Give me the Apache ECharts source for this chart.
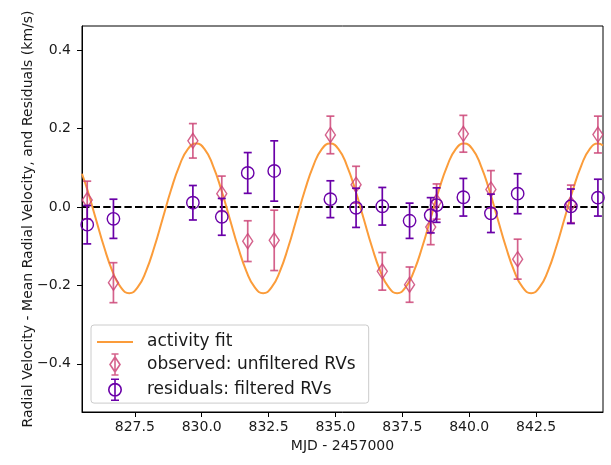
<!DOCTYPE html>
<html>
<head>
<meta charset="utf-8">
<script src="https://cdn.jsdelivr.net/npm/echarts@6/dist/echarts.min.js"></script>
<style>
html,body{margin:0;padding:0;background:#fff;}
#chart{width:611px;height:465px;}
</style>
</head>
<body>
<div id="chart"></div>
<script>
// ---- data ----
const mjd = [825.72, 826.70, 829.67, 830.75, 831.72, 832.71, 834.81, 835.77, 836.75, 837.77, 838.56, 838.78, 839.78, 840.81, 841.81, 843.80, 844.81];
const observed    = [0.018, -0.193, 0.169, 0.034, -0.087, -0.085, 0.184, 0.057, -0.164, -0.198, -0.051, 0.014, 0.187, 0.045, -0.133, 0.008, 0.185];
const observedErr = [0.048, 0.051, 0.044, 0.045, 0.052, 0.077, 0.048, 0.047, 0.048, 0.045, 0.045, 0.045, 0.047, 0.048, 0.051, 0.048, 0.047];
const residual    = [-0.045, -0.030, 0.011, -0.025, 0.087, 0.092, 0.020, -0.002, 0.002, -0.035, -0.021, 0.005, 0.025, -0.016, 0.034, 0.002, 0.024];
const residualErr = [0.049, 0.050, 0.044, 0.047, 0.052, 0.077, 0.047, 0.050, 0.048, 0.045, 0.045, 0.044, 0.048, 0.049, 0.051, 0.044, 0.047];

// activity fit curve
const fitX = [825.525, 825.725, 826.038, 826.351, 826.664, 826.977,
  827.290, 827.603, 827.916, 828.229, 828.542, 828.855, 829.168, 829.481, 829.794, 830.107, 830.419, 830.732, 831.045, 831.358, 831.671, 831.984,
  832.297, 832.610, 832.923, 833.236, 833.549, 833.862, 834.175, 834.488, 834.801, 835.114, 835.426, 835.739, 836.052, 836.365, 836.678, 836.991,
  837.304, 837.617, 837.930, 838.243, 838.556, 838.869, 839.182, 839.495, 839.808, 840.121, 840.433, 840.746, 841.059, 841.372, 841.685, 841.998,
  842.311, 842.624, 842.937, 843.250, 843.563, 843.876, 844.189, 844.502, 844.815, 845.000];
const fitY = [0.085, 0.044, -0.029, -0.102, -0.164, -0.205,
  -0.220, -0.205, -0.164, -0.102, -0.029, 0.044, 0.106, 0.148, 0.162, 0.148, 0.106, 0.044, -0.029, -0.102, -0.164, -0.205,
  -0.220, -0.205, -0.164, -0.102, -0.029, 0.044, 0.106, 0.148, 0.162, 0.148, 0.106, 0.044, -0.029, -0.102, -0.164, -0.205,
  -0.220, -0.205, -0.164, -0.102, -0.029, 0.044, 0.106, 0.148, 0.162, 0.148, 0.106, 0.044, -0.029, -0.102, -0.164, -0.205,
  -0.220, -0.205, -0.164, -0.102, -0.029, 0.044, 0.106, 0.148, 0.162, 0.157];

const zeroLevel = 0.0;
const xTicks = [827.5, 830.0, 832.5, 835.0, 837.5, 840.0, 842.5];
const yTicks = [-0.4, -0.2, 0.0, 0.2, 0.4];
const xRange = [825.525, 845.0];
const yRange = [-0.523, 0.462];

const names = ['activity fit', 'observed: unfiltered RVs', 'residuals: filtered RVs'];
const xTitle = 'MJD - 2457000';
const yTitle = 'Radial Velocity - Mean Radial Velocity, and Residuals (km/s)';

// ---- styles ----
const ORANGE = '#fb9c3a';
const PINK = '#cc4778';
const PURPLE = '#6a00a8';
const FONT = 'DejaVu Sans';
const TXT = '#1a1a1a';

function errRender(kind, color, opacity) {
  return function (params, api) {
    const x = api.value(0), y = api.value(1), e = api.value(2);
    const c = api.coord([x, y]);
    const t = api.coord([x, y + e]);
    const b = api.coord([x, y - e]);
    const st = {stroke: color, lineWidth: 1.7, fill: null, opacity: opacity};
    const cw = 4;
    const children = [
      {type: 'line', shape: {x1: t[0], y1: t[1], x2: b[0], y2: b[1]}, style: st},
      {type: 'line', shape: {x1: t[0] - cw, y1: t[1], x2: t[0] + cw, y2: t[1]}, style: st},
      {type: 'line', shape: {x1: b[0] - cw, y1: b[1], x2: b[0] + cw, y2: b[1]}, style: st}
    ];
    if (kind === 'diamond') {
      children.push({type: 'polygon', shape: {points: [[c[0], c[1] - 7.5], [c[0] + 5, c[1]], [c[0], c[1] + 7.5], [c[0] - 5, c[1]]]},
        style: {stroke: color, lineWidth: 1.4, fill: 'none', opacity: opacity}});
    } else {
      children.push({type: 'circle', shape: {cx: c[0], cy: c[1], r: 6.2},
        style: {stroke: color, lineWidth: 1.4, fill: 'none', opacity: opacity}});
    }
    return {type: 'group', children: children};
  };
}

const fitData = fitX.map((x, i) => [x, fitY[i]]);
const zeroData = xRange.map(x => [x, zeroLevel]);
const obsData = mjd.map((x, i) => [x, observed[i], observedErr[i]]);
const resData = mjd.map((x, i) => [x, residual[i], residualErr[i]]);

const chart = echarts.init(document.getElementById('chart'), null, {renderer: 'canvas'});
chart.setOption({
  animation: false,
  backgroundColor: '#fff',
  grid: {left: 82, right: 8, top: 26, bottom: 53, show: true, borderColor: '#000', borderWidth: 1, backgroundColor: 'transparent'},
  xAxis: {
    type: 'value', min: xRange[0], max: xRange[1],
    name: xTitle, nameLocation: 'middle', nameGap: 27, nameMoveOverlap: false,
    nameTextStyle: {fontFamily: FONT, fontSize: 14, color: TXT},
    axisLine: {show: true, onZero: false, lineStyle: {color: '#000', width: 1}},
    axisTick: {show: true, inside: false, length: 5, lineStyle: {color: '#000', width: 1}, customValues: xTicks},
    axisLabel: {customValues: xTicks, margin: 8, fontFamily: FONT, fontSize: 14, color: TXT, formatter: v => v.toFixed(1)},
    splitLine: {show: false}
  },
  yAxis: {
    type: 'value', min: yRange[0], max: yRange[1],
    name: yTitle, nameLocation: 'middle', nameGap: 47, nameRotate: 90, nameMoveOverlap: false,
    nameTextStyle: {fontFamily: FONT, fontSize: 14, color: TXT},
    axisLine: {show: true, onZero: false, lineStyle: {color: '#000', width: 1}},
    axisTick: {show: true, inside: false, length: 5, lineStyle: {color: '#000', width: 1}, customValues: yTicks},
    axisLabel: {customValues: yTicks, margin: 11, fontFamily: FONT, fontSize: 14, color: TXT, formatter: v => v.toFixed(1).replace('-', '\u2212')},
    splitLine: {show: false}
  },
  legend: {
    orient: 'vertical', left: 91, top: 325,
    padding: [8.5, 13, 2, 6], itemGap: 2.7, itemWidth: 36, itemHeight: 21,
    backgroundColor: 'rgba(255,255,255,0.85)', borderColor: '#cccccc', borderWidth: 1, borderRadius: 3,
    textStyle: {fontFamily: FONT, fontSize: 17, color: TXT, padding: [0, 0, 0, 9]},
    data: [
      {name: names[0], icon: 'path://M0,0L36,0L36,2L0,2Z', itemStyle: {color: ORANGE, borderWidth: 0}},
      {name: names[1], icon: 'path://M0.5,0L7.5,0M4,0L4,21M0.5,21L7.5,21M4,3L9,10.5L4,18L-1,10.5Z',
        itemStyle: {color: 'rgba(0,0,0,0)', borderColor: PINK, borderWidth: 1.6, opacity: 0.85}},
      {name: names[2], icon: 'path://M0,0L8,0M4,0L4,21M0,21L8,21M-2.2,10.5A6.2,6.2,0,1,1,10.2,10.5A6.2,6.2,0,1,1,-2.2,10.5Z',
        itemStyle: {color: 'rgba(0,0,0,0)', borderColor: PURPLE, borderWidth: 1.6}}
    ]
  },
  series: [
    {
      name: 'zero', type: 'line', data: zeroData, silent: true, z: 1, showSymbol: false, symbol: 'none',
      lineStyle: {color: '#000', type: [7.4, 3.2], width: 2}
    },
    {
      name: names[0], type: 'line', data: fitData, smooth: true, showSymbol: false, symbol: 'none', z: 2,
      lineStyle: {color: ORANGE, width: 2}, itemStyle: {color: ORANGE}
    },
    {
      name: names[1], type: 'custom', data: obsData, encode: {x: 0, y: 1}, z: 3,
      itemStyle: {color: PINK}, renderItem: errRender('diamond', PINK, 0.85)
    },
    {
      name: names[2], type: 'custom', data: resData, encode: {x: 0, y: 1}, z: 4,
      itemStyle: {color: PURPLE}, renderItem: errRender('circle', PURPLE, 1)
    }
  ]
});
</script>
</body>
</html>
